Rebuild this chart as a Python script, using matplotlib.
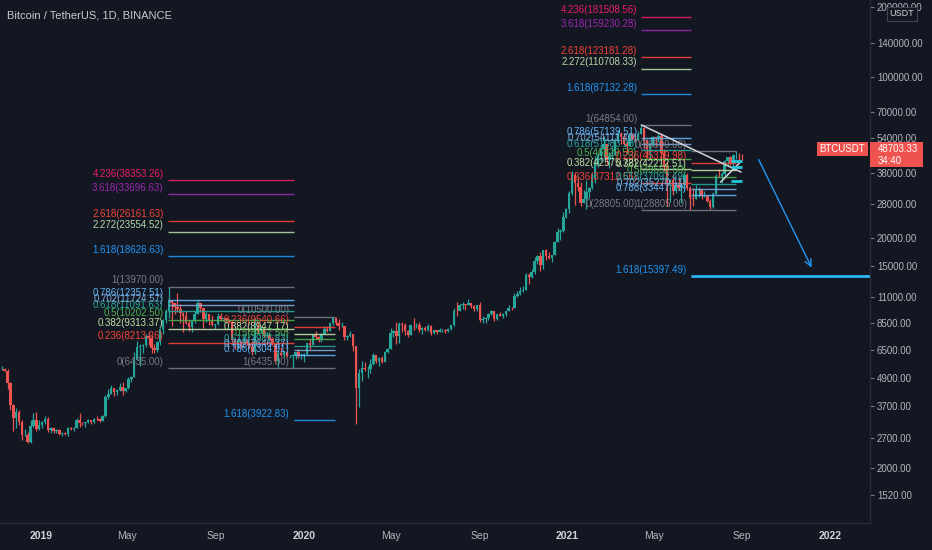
import datetime as dt
import numpy as np
import matplotlib
matplotlib.use("Agg")
import matplotlib.pyplot as plt
import matplotlib.dates as mdates
from matplotlib.patches import Rectangle
from matplotlib.ticker import FixedLocator, NullLocator
from matplotlib import font_manager as fm

# ---------------- data ----------------
title = "Bitcoin / TetherUS, 1D, BINANCE"
candle_start = "2018-11-02"     # candles are 4-day bars
candle_days = 4
first_open = 6350

close = [
    6380, 6400, 6280, 5580, 4550, 4000, 4250, 3850, 3400, 3430,
    3200, 3720, 3950, 3600, 3750, 3850, 3990, 3580, 3640, 3540,
    3580, 3440, 3480, 3460, 3650, 3600, 3650, 3920, 3830, 3820,
    3860, 3950, 3860, 3990, 3980, 3910, 4090, 4890, 5050, 5320,
    5150, 5260, 5400, 5200, 5320, 5800, 5950, 6950, 7880, 7980,
    7990, 8730, 8550, 7790, 7640, 8230, 9330, 10200, 11050, 12350,
    11970, 11470, 11350, 10850, 10530, 9850, 9480, 10090, 10800, 11950,
    11390, 10320, 10750, 10140, 9720, 9760, 10570, 10310, 10360, 10190,
    9980, 8430, 8050, 8230, 8210, 8280, 8160, 7970, 7490, 9550,
    9150, 9410, 8770, 8810, 8480, 8080, 6900, 7430, 7300, 7530,
    7200, 7250, 7280, 7510, 7200, 7250, 7340, 8160, 8020, 8820,
    8700, 8400, 8900, 9350, 9160, 9900, 10360, 9900, 9600, 9660,
    8700, 8760, 8900, 7930, 5360, 6170, 6480, 6370, 6420, 6730,
    7300, 6900, 7110, 6840, 7500, 7760, 8960, 9150, 8720, 9800,
    9720, 9170, 8840, 9700, 9670, 9750, 9280, 9430, 9290, 9630,
    9010, 9230, 9070, 9230, 9250, 9150, 9380, 9700, 11100, 11050,
    11750, 11880, 11780, 11950, 11680, 11330, 11710, 10170, 10250, 10390,
    10790, 11080, 10250, 10780, 10620, 10800, 11060, 11430, 11360, 12820,
    13030, 13460, 13560, 15590, 15300, 16070, 17800, 18660, 17150, 19700,
    18650, 18320, 18800, 21300, 23480, 23700, 27000, 29300, 33900, 40200,
    37400, 35900, 30800, 32250, 34300, 35500, 39250, 44800, 48700, 51550,
    54100, 46300, 48400, 48900, 55900, 59300, 57600, 54100, 53300, 58800,
    57000, 56000, 59800, 63200, 55600, 51700, 54000, 57800, 57200, 58200,
    49700, 43500, 37300, 38400, 34600, 36700, 35800, 36700, 40500, 35800,
    32500, 32100, 35000, 35300, 32900, 33100, 31400, 29800, 33700, 39900,
    39800, 40800, 46200, 47800, 44700, 48900, 48900, 48800, 48703.33,
]
high = [
    6480, 6600, 6470, 6380, 5650, 4600, 4400, 4350, 3950, 3600,
    3520, 3950, 4200, 4230, 3950, 3900, 4100, 4070, 3700, 3700,
    3620, 3620, 3500, 3520, 3680, 3700, 3680, 4000, 4200, 3870,
    3880, 3980, 3950, 4030, 4080, 4020, 4120, 5000, 5300, 5480,
    5350, 5300, 5600, 5650, 5350, 5900, 6000, 7500, 8300, 8100,
    8100, 8900, 9090, 8820, 8100, 8300, 9450, 10300, 11250, 13970,
    12050, 12000, 13200, 11900, 11000, 11100, 10200, 10150, 11080, 12300,
    12000, 11450, 10950, 10800, 10640, 9800, 10900, 10900, 10430, 10350,
    10250, 10080, 8500, 8550, 8340, 8740, 8480, 8150, 8300, 10370,
    9940, 9620, 9450, 9100, 8830, 8650, 8140, 7650, 7870, 7600,
    7650, 7280, 7350, 7520, 7700, 7450, 7420, 8220, 8470, 8900,
    9190, 8750, 8980, 9580, 9600, 9950, 10400, 10500, 10250, 10000,
    9660, 8800, 9190, 8170, 7970, 6400, 6900, 6840, 6600, 7000,
    7450, 7300, 7150, 7220, 7550, 7800, 9450, 9300, 10000, 9950,
    9950, 9900, 9300, 9700, 10380, 9880, 9990, 9550, 9580, 9780,
    9680, 9300, 9270, 9470, 9340, 9320, 9400, 9700, 11400, 12100,
    11900, 12070, 11850, 12480, 12000, 11700, 11720, 12050, 10600, 10480,
    10900, 11180, 11060, 10800, 10950, 10850, 11100, 11720, 11550, 13200,
    13350, 13860, 14100, 15960, 15850, 16480, 18480, 18900, 19480, 19860,
    19900, 19420, 18900, 21560, 24300, 24100, 28400, 29600, 34800, 41950,
    41300, 40100, 37900, 34900, 38600, 35900, 40950, 48200, 49700, 52600,
    58350, 54200, 50000, 52600, 57400, 61800, 60600, 59900, 55800, 59300,
    60000, 59800, 61300, 64854, 63600, 57000, 55000, 58500, 58000, 59500,
    59600, 51400, 45800, 38800, 40800, 37900, 39500, 36800, 40900, 41300,
    36400, 35500, 36600, 35900, 35100, 34700, 33300, 32000, 34200, 40550,
    42600, 41400, 46400, 47900, 48100, 49400, 50500, 49600, 49100,
]
low = [
    6300, 6350, 6250, 5300, 4350, 3550, 3650, 3750, 3270, 3380,
    3156, 3180, 3700, 3550, 3570, 3650, 3800, 3500, 3470, 3480,
    3480, 3400, 3380, 3420, 3380, 3570, 3550, 3640, 3700, 3740,
    3700, 3830, 3800, 3830, 3940, 3880, 3900, 4050, 4800, 5100,
    4950, 4990, 5200, 5000, 5150, 5300, 5650, 6100, 6950, 6600,
    7450, 7900, 8000, 7450, 7450, 7520, 8000, 8950, 9900, 10400,
    9650, 10800, 11000, 9860, 9070, 9800, 9200, 9100, 9900, 11100,
    11000, 9400, 10000, 9750, 9600, 9350, 9750, 10050, 9950, 10050,
    9900, 8220, 7750, 7710, 7770, 8200, 8050, 7820, 7300, 7360,
    8970, 9000, 8670, 8550, 8410, 8000, 6790, 6510, 7220, 7140,
    7160, 7080, 6435, 7020, 7110, 7060, 6850, 7280, 7750, 8050,
    8470, 8290, 8240, 8900, 9100, 9150, 9730, 9700, 9290, 9500,
    8450, 8400, 8640, 7600, 3782, 4440, 5700, 6280, 5850, 6150,
    6670, 6750, 6550, 6750, 6840, 7450, 7700, 8650, 8100, 8200,
    9100, 8800, 8700, 8840, 9270, 9450, 9100, 8900, 9210, 9200,
    8830, 8930, 8900, 9050, 9120, 9000, 9050, 9300, 9650, 10600,
    11050, 11300, 11150, 11700, 11400, 11130, 11100, 10000, 9850, 9880,
    10200, 10700, 10130, 10200, 10550, 10400, 10530, 11080, 11200, 11400,
    12700, 12900, 13250, 13500, 14350, 15100, 15800, 17350, 16200, 16500,
    18000, 18150, 17600, 18900, 21250, 21800, 23450, 26700, 28100, 33400,
    30400, 34500, 30100, 30800, 29250, 32300, 35400, 37400, 43700, 45900,
    47600, 44900, 43000, 46300, 49300, 55100, 54100, 53700, 50400, 53600,
    56500, 55400, 55800, 59800, 51500, 47500, 47000, 53000, 53100, 55200,
    46000, 42100, 30000, 31100, 33400, 34100, 35000, 31000, 34800, 35100,
    28805, 30150, 32000, 32700, 32100, 32700, 31100, 29300, 29500, 33800,
    39400, 37300, 39900, 44100, 44500, 43900, 47100, 46300, 46500,
]

# Fibonacci drawings: level price = p0 + ratio * (p1 - p0)
fib_ratios_ext = [0, 0.236, 0.382, 0.5, 0.618, 0.702, 0.786, 1, 1.618, 2.272, 2.618, 3.618, 4.236]
fib_ratios_down = [0, 0.236, 0.382, 0.5, 0.618, 0.702, 0.786, 1, 1.618]
fib_colors = {0: "#787b86", 0.236: "#f44336", 0.382: "#c5e1a5", 0.5: "#4caf50",
              0.618: "#26a69a", 0.702: "#7fa8d8", 0.786: "#64b5f6", 1: "#787b86",
              1.618: "#2196f3", 2.272: "#b6d7a8", 2.618: "#f44336",
              3.618: "#9c27b0", 4.236: "#e91e63"}
fibs = [
    dict(p0=6435.00, p1=13970.00, t0="2019-06-26", t1="2019-12-18", ratios=fib_ratios_ext),
    dict(p0=10500.00, p1=6435.00, t0="2019-12-18", t1="2020-02-13", ratios=fib_ratios_down),
    dict(p0=28805.00, p1=64854.00, t0="2021-04-14", t1="2021-06-22", ratios=fib_ratios_ext),
    dict(p0=50500.00, p1=28805.00, t0="2021-06-22", t1="2021-08-23", ratios=fib_ratios_down,
         extend_ratio=1.618),
]

trend_lines = [  # (date, price) pairs, white
    (("2021-04-14", 64854), ("2021-08-30", 41500)),
    (("2021-08-02", 37750), ("2021-08-28", 45200)),
]
cyan_marks = [46070, 43320, 38100]
cyan_span = ("2021-08-16", "2021-08-31")
arrow_from = ("2021-09-22", 47860)
arrow_to = ("2021-12-08", 16360)

last_price = 48703.33
countdown = "34:40"
symbol = "BTCUSDT"
currency = "USDT"

price_ticks = [200000, 140000, 100000, 70000, 54000, 38000, 28000, 20000, 15000,
               11000, 8500, 6500, 4900, 3700, 2700, 2000, 1520]
time_ticks = ["2019-01-01", "2019-05-01", "2019-09-01", "2020-01-01", "2020-05-01",
              "2020-09-01", "2021-01-01", "2021-05-01", "2021-09-01", "2022-01-01"]
time_labels = ["2019", "May", "Sep", "2020", "May", "Sep", "2021", "May", "Sep", "2022"]

# ---------------- style ----------------
BG = "#131722"
GRID = "#2a2e39"
TXT = "#b2b5be"
UP = "#26a69a"
DOWN = "#ef5350"
names = {f.name for f in fm.fontManager.ttflist}
NARROW = "Liberation Sans Narrow" if "Liberation Sans Narrow" in names else "Liberation Sans"
FS = 8 if NARROW == "Liberation Sans Narrow" else 7
plt.rcParams["font.family"] = [NARROW, "DejaVu Sans"]

W, H = 932, 550
PLOT_R, PLOT_B = 870, 523
fig = plt.figure(figsize=(W / 100, H / 100), dpi=100, facecolor=BG)
ax = fig.add_axes([0, (H - PLOT_B) / H, PLOT_R / W, PLOT_B / H], facecolor=BG)
ax2 = ax.twinx()


def d(s):
    return mdates.date2num(dt.datetime.strptime(s, "%Y-%m-%d"))


# ---------------- candles ----------------
n = len(close)
assert len(high) == n and len(low) == n
opens = np.array([first_open] + close[:-1], dtype=float)
c = np.array(close, dtype=float)
hi = np.maximum(np.array(high, float), np.maximum(opens, c))
lo = np.minimum(np.array(low, float), np.minimum(opens, c))
xs = d(candle_start) + candle_days * np.arange(n) + 1.5
cols = np.where(c >= opens, UP, DOWN)
ax.vlines(xs, lo, hi, colors=cols, lw=0.9, zorder=2)
ax.bar(xs, np.abs(c - opens), bottom=np.minimum(opens, c), width=3.4,
       color=cols, linewidth=0, zorder=2)

# ---------------- axes ranges ----------------
ax.set_yscale("log")
ax.set_ylim(1480.6, 212570)
d0 = d("2019-01-01")
ax.set_xlim(d0 - 41 / 0.72, d0 + (PLOT_R - 41) / 0.72)
ax2.set_yscale("log")
ax2.set_ylim(1152.2, 215220)

# ---------------- fibs ----------------
xmax = ax.get_xlim()[1]
for f in fibs:
    t0, t1 = d(f["t0"]), d(f["t1"])
    for r in f["ratios"]:
        p = f["p0"] + r * (f["p1"] - f["p0"])
        if p <= 1500 or p >= 212000:
            continue
        col = fib_colors[r]
        if f.get("extend_ratio") == r:
            ax.hlines(p, t0, xmax, colors="#29b6f6", lw=2.0, zorder=3)
        else:
            ax.hlines(p, t0, t1, colors=col, lw=1.0, zorder=3, alpha=0.9)
        ax.annotate(f"{r:g}({p:.2f})", xy=(t0, p), xytext=(-3, 1),
                    textcoords="offset points", ha="right", va="bottom",
                    color=col, fontsize=FS, zorder=4)

for (a, b) in trend_lines:
    ax.plot([d(a[0]), d(b[0])], [a[1], b[1]], color="#d1d4dc", lw=1.1, zorder=4)
for p in cyan_marks:
    ax.hlines(p, d(cyan_span[0]), d(cyan_span[1]), colors="#26c6da", lw=2, zorder=4)
ax.annotate("", xy=(d(arrow_to[0]), arrow_to[1]), xytext=(d(arrow_from[0]), arrow_from[1]),
            arrowprops=dict(arrowstyle="->", color="#2196f3", lw=1.0, mutation_scale=12),
            zorder=4)

# ---------------- axis styling ----------------
for a in (ax, ax2):
    for s in ("top", "left"):
        a.spines[s].set_visible(False)
    a.spines["right"].set_color(GRID)
    a.spines["bottom"].set_color(GRID)
    a.yaxis.set_minor_locator(NullLocator())
ax.set_yticks([])
ax.yaxis.set_minor_locator(NullLocator())
ax2.yaxis.set_major_locator(FixedLocator(price_ticks))
ax2.set_yticklabels([f"{v:.2f}" for v in price_ticks])
ax2.tick_params(axis="y", which="both", right=True, left=False, length=3, width=0.8,
                color="#787b86", pad=2, labelsize=FS, labelcolor=TXT)
ax2.yaxis.set_minor_locator(NullLocator())

ax.xaxis.set_major_locator(FixedLocator([d(s) for s in time_ticks]))
ax.xaxis.set_minor_locator(NullLocator())
ax.set_xticklabels(time_labels)
ax.tick_params(axis="x", which="both", length=0, pad=6, labelsize=FS + 0.5,
               labelcolor=TXT, bottom=True, labelbottom=True)
for lbl in ax.get_xticklabels():
    if lbl.get_text().isdigit():
        lbl.set_fontweight("bold")
        lbl.set_color("#d1d4dc")

# ---------------- title / labels ----------------
fig.text(7 / W, 1 - 15 / H, title, color="#c8cad1", fontsize=FS + 1, ha="left", va="center")

fig.canvas.draw()
yp = ax2.transData.transform((ax2.get_xlim()[0], last_price))[1]  # display px from bottom
fig.add_artist(Rectangle((PLOT_R / W, (yp - 18) / H), 53 / W, 25 / H,
                         transform=fig.transFigure, facecolor="#ef5350", edgecolor="none"))
fig.text((PLOT_R + 8) / W, yp / H, f"{last_price:.2f}", color="white", fontsize=FS,
         ha="left", va="center")
fig.text((PLOT_R + 8) / W, (yp - 12) / H, countdown, color="white", fontsize=FS,
         ha="left", va="center")
fig.add_artist(Rectangle((817 / W, (yp - 7) / H), 51 / W, 14 / H,
                         transform=fig.transFigure, facecolor="#ef5350", edgecolor="none"))
fig.text(842.5 / W, yp / H, symbol, color="white", fontsize=FS, ha="center", va="center")

fig.add_artist(Rectangle((887 / W, 1 - 21 / H), 30 / W, 14 / H, transform=fig.transFigure,
                         facecolor=BG, edgecolor="#434651", lw=0.8))
fig.text(902 / W, 1 - 14 / H, currency, color="#d1d4dc", fontsize=FS - 0.5,
         ha="center", va="center")

fig.savefig("out.png", dpi=100, facecolor=BG)
